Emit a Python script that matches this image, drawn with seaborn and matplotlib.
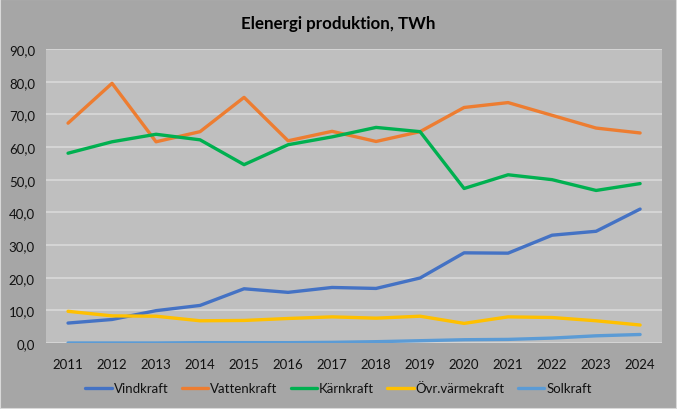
import numpy as np
import pandas as pd
import matplotlib
matplotlib.use("Agg")
import matplotlib.pyplot as plt
import seaborn as sns
from matplotlib.ticker import FuncFormatter
from matplotlib.patches import Rectangle

# Data (TWh)
years = list(range(2011, 2025))
vindkraft = [6.1, 7.2, 9.9, 11.5, 16.6, 15.5, 17.0, 16.7, 19.9, 27.6, 27.5, 33.0, 34.2, 41.0]
vattenkraft = [67.3, 79.5, 61.6, 64.7, 75.2, 61.9, 64.8, 61.7, 64.7, 72.1, 73.6, 69.7, 65.8, 64.3]
karnkraft = [58.1, 61.6, 63.9, 62.2, 54.6, 60.7, 63.1, 66.0, 64.7, 47.3, 51.5, 50.0, 46.7, 48.8]
ovr_varmekraft = [9.7, 8.3, 8.2, 6.8, 6.9, 7.5, 8.0, 7.6, 8.2, 6.0, 8.0, 7.8, 6.8, 5.5]
solkraft = [0.0, 0.0, 0.0, 0.1, 0.1, 0.1, 0.2, 0.4, 0.7, 1.0, 1.1, 1.5, 2.2, 2.6]

series = ["Vindkraft", "Vattenkraft", "Kärnkraft", "Övr.värmekraft", "Solkraft"]
colors = ["#4472C4", "#ED7D31", "#00B050", "#FFC000", "#5B9BD5"]

df = pd.DataFrame({"År": years, "Vindkraft": vindkraft, "Vattenkraft": vattenkraft,
                   "Kärnkraft": karnkraft, "Övr.värmekraft": ovr_varmekraft,
                   "Solkraft": solkraft})
long = df.melt(id_vars="År", var_name="Kraftslag", value_name="TWh")

sns.set_theme(style="white")
plt.rcParams["font.family"] = ["Lato", "DejaVu Sans"]

fig = plt.figure(figsize=(6.77, 4.10), dpi=100, facecolor="#a6a6a6")
fig.patches.append(Rectangle((0, 0), 1, 1, transform=fig.transFigure, fill=False,
                             edgecolor="#d9d9d9", linewidth=1.5))
ax = fig.add_axes([0.068, 0.161, 0.910, 0.717])
ax.set_facecolor("#bfbfbf")

sns.lineplot(data=long, x="År", y="TWh", hue="Kraftslag", hue_order=series,
             palette=colors, linewidth=2.4, ax=ax, legend=False)

ax.set_xlim(2010.5, 2024.5)
ax.set_ylim(0, 90)
ax.set_xticks(years)
ax.set_yticks(np.arange(0, 91, 10))
ax.yaxis.set_major_formatter(FuncFormatter(lambda v, p: f"{v:.1f}".replace(".", ",")))
ax.grid(axis="y", color="#d9d9d9", linewidth=1.2)
ax.set_axisbelow(True)
for s in ax.spines.values():
    s.set_visible(False)
ax.tick_params(axis="both", length=0, labelsize=9.5, colors="#111111")
ax.tick_params(axis="x", pad=11)
ax.tick_params(axis="y", pad=8)
ax.set_xlabel("")
ax.set_ylabel("")

fig.text(0.5, 0.941, "Elenergi produktion, TWh", ha="center", va="center",
         fontsize=12.2, fontweight="bold", color="#000000")

handles = [plt.Line2D([], [], color=c, linewidth=2.4) for c in colors]
fig.legend(handles, series, loc="center", bbox_to_anchor=(0.5, 0.05), ncol=5,
           frameon=False, fontsize=9.5, handlelength=2.0, handletextpad=0.15,
           columnspacing=1.0, labelcolor="#111111")

fig.savefig("out.png", dpi=100, facecolor=fig.get_facecolor())
